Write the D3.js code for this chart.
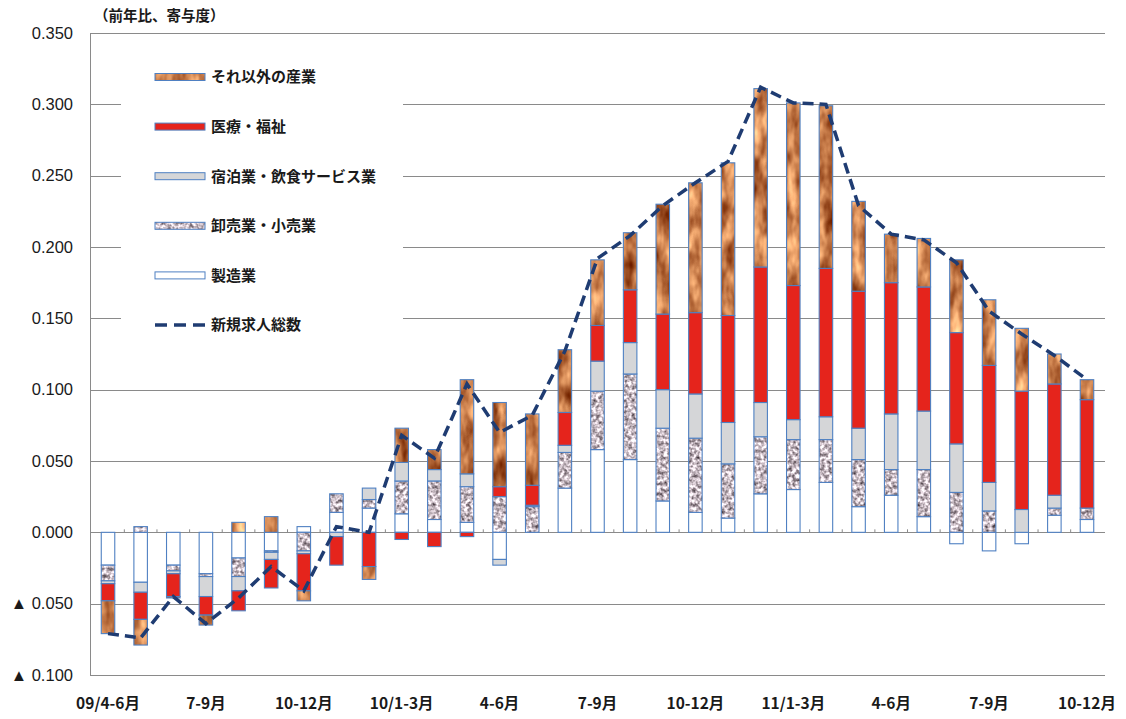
<!DOCTYPE html>
<html>
<head>
<meta charset="utf-8">
<script src="https://cdn.jsdelivr.net/npm/d3@7"></script>
<style>
  html, body { margin: 0; padding: 0; background: #ffffff; }
  svg { display: block; }
</style>
</head>
<body>
<svg id="chart" width="1126" height="719"></svg>
<script>
// Monthly periods, April 2009 to October 2011
const categories = [
  "2009-04","2009-05","2009-06","2009-07","2009-08","2009-09","2009-10","2009-11","2009-12",
  "2010-01","2010-02","2010-03","2010-04","2010-05","2010-06","2010-07","2010-08","2010-09",
  "2010-10","2010-11","2010-12","2011-01","2011-02","2011-03","2011-04","2011-05","2011-06",
  "2011-07","2011-08","2011-09","2011-10"
];
// Category axis labels, one every three periods
const tickLabels = ["09/4-6月","7-9月","10-12月","10/1-3月","4-6月","7-9月","10-12月","11/1-3月","4-6月","7-9月","10-12月"];
const yTicks = [-0.1, -0.05, 0, 0.05, 0.1, 0.15, 0.2, 0.25, 0.3, 0.35];

// Contributions by industry (year-on-year)
const manufacturing = [-0.023,-0.035,-0.023,-0.029,-0.018,-0.013,0.004,0.014,0.017,0.013,0.009,0.007,-0.019,0.000,0.031,0.058,0.051,0.022,0.014,0.010,0.027,0.030,0.035,0.018,0.026,0.011,-0.008,-0.013,-0.008,0.012,0.009];
const wholesaleRetail = [-0.011,0.004,-0.004,-0.002,-0.013,-0.001,-0.013,0.013,0.006,0.023,0.027,0.025,0.025,0.018,0.025,0.041,0.060,0.051,0.052,0.038,0.040,0.035,0.030,0.033,0.018,0.033,0.028,0.015,0.000,0.005,0.008];
const accommodationFood = [-0.002,-0.007,-0.002,-0.014,-0.010,-0.005,-0.002,-0.003,0.008,0.013,0.008,0.009,-0.004,0.001,0.005,0.021,0.022,0.027,0.031,0.029,0.024,0.014,0.016,0.022,0.039,0.041,0.034,0.020,0.016,0.009,0.000];
const medicalWelfare = [-0.012,-0.019,-0.016,-0.013,-0.014,-0.020,-0.026,-0.020,-0.024,-0.005,-0.010,-0.003,0.007,0.014,0.023,0.025,0.037,0.053,0.057,0.075,0.095,0.094,0.104,0.096,0.092,0.087,0.078,0.082,0.083,0.078,0.076];
const otherIndustries = [-0.023,-0.018,-0.001,-0.007,0.007,0.011,-0.007,0.000,-0.009,0.024,0.014,0.066,0.059,0.050,0.044,0.046,0.040,0.077,0.091,0.107,0.125,0.128,0.114,0.063,0.034,0.034,0.051,0.046,0.044,0.021,0.014];
// Total new job openings (year-on-year)
const newOpenings = [-0.071,-0.074,-0.045,-0.064,-0.046,-0.024,-0.041,0.004,0.000,0.068,0.052,0.104,0.070,0.082,0.127,0.192,0.208,0.229,0.245,0.260,0.312,0.301,0.300,0.229,0.209,0.205,0.189,0.155,0.139,0.124,0.107];

const seriesKeys = ["manufacturing","wholesaleRetail","accommodationFood","medicalWelfare","otherIndustries"];
const seriesLabels = {
  otherIndustries: "それ以外の産業",
  medicalWelfare: "医療・福祉",
  accommodationFood: "宿泊業・飲食サービス業",
  wholesaleRetail: "卸売業・小売業",
  manufacturing: "製造業"
};
const lineLabel = "新規求人総数";

const rows = categories.map((c, i) => ({
  cat: c,
  manufacturing: manufacturing[i],
  wholesaleRetail: wholesaleRetail[i],
  accommodationFood: accommodationFood[i],
  medicalWelfare: medicalWelfare[i],
  otherIndustries: otherIndustries[i]
}));

const svg = d3.select("#chart");
const plot = { left: 90, right: 1105, top: 33, bottom: 675 };
const jpFont = "'Noto Sans CJK JP', 'Noto Sans', sans-serif";
const numFont = "'Liberation Sans', 'DejaVu Sans', sans-serif";

const x = d3.scaleBand().domain(categories).range([plot.left, plot.right])
  .paddingInner(0.586).paddingOuter(0.345);
const y = d3.scaleLinear().domain([-0.1, 0.35]).range([plot.bottom, plot.top]);

// ---- textures ----
const defs = svg.append("defs");
function textureFilter(id, freq, octaves, seed, matrix) {
  const f = defs.append("filter").attr("id", id)
    .attr("x", 0).attr("y", 0).attr("width", 1).attr("height", 1)
    .attr("color-interpolation-filters", "sRGB");
  f.append("feTurbulence").attr("type", "fractalNoise")
    .attr("baseFrequency", freq).attr("numOctaves", octaves).attr("seed", seed).attr("result", "n");
  f.append("feColorMatrix").attr("in", "n").attr("type", "matrix").attr("values", matrix).attr("result", "c");
  f.append("feComposite").attr("in", "c").attr("in2", "SourceGraphic").attr("operator", "in");
}
// crumpled copper foil
textureFilter("copper", "0.08 0.035", 3, 4,
  "0.95 0 0 0 0.29  1.0 0 0 0 -0.03  0.85 0 0 0 -0.15  0 0 0 0 1");
// grey granite speckle
textureFilter("speckle", "0.28", 2, 7,
  "1.4 0 0 0 0.08  1.4 0 0 0 0.03  1.4 0 0 0 0.06  0 0 0 0 1");

const fills = {
  manufacturing: { fill: "#ffffff", filter: null },
  wholesaleRetail: { fill: "#c9bfc3", filter: "url(#speckle)" },
  accommodationFood: { fill: "#d5d6d8", filter: null },
  medicalWelfare: { fill: "#e5241c", filter: null },
  otherIndustries: { fill: "#c27c44", filter: "url(#copper)" }
};
const outline = "#4f80c2";

// ---- gridlines and frame ----
const grid = svg.append("g");
grid.selectAll("line").data(yTicks).join("line")
  .attr("x1", plot.left).attr("x2", plot.right)
  .attr("y1", d => Math.round(y(d)) + 0.5).attr("y2", d => Math.round(y(d)) + 0.5)
  .attr("stroke", "#8a8a8a").attr("stroke-width", 1);
svg.append("line")
  .attr("x1", plot.left + 0.5).attr("x2", plot.left + 0.5)
  .attr("y1", y(0.35)).attr("y2", y(-0.1))
  .attr("stroke", "#8a8a8a").attr("stroke-width", 1);

// ---- y axis labels ----
const fmt = d3.format(".3f");
const yAxis = d3.axisLeft(y).tickValues(yTicks).tickSize(0).tickPadding(17)
  .tickFormat(v => v < 0 ? "▲ " + fmt(-v) : fmt(Math.abs(v)));
const yg = svg.append("g").attr("transform", `translate(${plot.left},0)`).call(yAxis);
yg.select(".domain").remove();
yg.selectAll("text").attr("font-family", numFont).attr("font-size", 16.5).attr("fill", "#1a1a1a");

// ---- legend ----
const legend = svg.append("g");
legend.append("rect").attr("x", 121).attr("y", 45).attr("width", 282).attr("height", 318).attr("fill", "#ffffff");
const legendOrder = ["otherIndustries","medicalWelfare","accommodationFood","wholesaleRetail","manufacturing"];
const legendY = d3.scalePoint().domain([...legendOrder, "line"]).range([77, 325]);
legendOrder.forEach(k => {
  const yy = legendY(k);
  legend.append("rect").attr("x", 155).attr("y", yy - 3.5).attr("width", 50).attr("height", 7)
    .attr("fill", fills[k].fill).attr("filter", fills[k].filter);
  legend.append("rect").attr("x", 155).attr("y", yy - 3.5).attr("width", 50).attr("height", 7)
    .attr("fill", "none").attr("stroke", outline).attr("stroke-width", 1);
  legend.append("text").attr("x", 211).attr("y", yy).attr("dy", "0.36em")
    .attr("font-family", jpFont).attr("font-weight", 700).attr("font-size", 15).attr("fill", "#1a1a1a")
    .text(seriesLabels[k]);
});
legend.append("line").attr("x1", 155).attr("x2", 205)
  .attr("y1", legendY("line")).attr("y2", legendY("line"))
  .attr("stroke", "#1f3c72").attr("stroke-width", 3.5).attr("stroke-dasharray", "12 7");
legend.append("text").attr("x", 211).attr("y", legendY("line")).attr("dy", "0.36em")
  .attr("font-family", jpFont).attr("font-weight", 700).attr("font-size", 15).attr("fill", "#1a1a1a")
  .text(lineLabel);

// ---- stacked bars ----
const stacked = d3.stack().keys(seriesKeys).offset(d3.stackOffsetDiverging)(rows);
const bw = x.bandwidth();
const barsG = svg.append("g");
stacked.forEach(layer => {
  const k = layer.key;
  const segs = layer.filter(d => Math.abs(d[1] - d[0]) > 0.0005);
  const g = barsG.append("g");
  g.selectAll("rect.fill").data(segs).join("rect").attr("class", "fill")
    .attr("x", d => x(d.data.cat)).attr("width", bw)
    .attr("y", d => y(Math.max(d[0], d[1])))
    .attr("height", d => Math.abs(y(d[0]) - y(d[1])))
    .attr("fill", fills[k].fill).attr("filter", fills[k].filter);
  g.selectAll("rect.edge").data(segs).join("rect").attr("class", "edge")
    .attr("x", d => x(d.data.cat)).attr("width", bw)
    .attr("y", d => y(Math.max(d[0], d[1])))
    .attr("height", d => Math.abs(y(d[0]) - y(d[1])))
    .attr("fill", "none").attr("stroke", outline).attr("stroke-width", 1.1);
});

// small category ticks on the zero line, between bars
const step = x.step();
svg.append("g").selectAll("line").data(categories.slice(1)).join("line")
  .attr("x1", d => x(d) - (step - bw) / 2).attr("x2", d => x(d) - (step - bw) / 2)
  .attr("y1", y(0) - 3).attr("y2", y(0))
  .attr("stroke", "#8a8a8a").attr("stroke-width", 1);

// ---- total new job openings line ----
const line = d3.line().x((d, i) => x(categories[i]) + bw / 2).y(d => y(d));
svg.append("path").datum(newOpenings).attr("d", line)
  .attr("fill", "none").attr("stroke", "#1f3c72").attr("stroke-width", 3.5)
  .attr("stroke-dasharray", "11 6");

// ---- category labels ----
const labelCats = categories.filter((c, i) => i % 3 === 0);
const xAxis = d3.axisBottom(x).tickValues(labelCats).tickSize(0).tickPadding(23)
  .tickFormat(d => tickLabels[labelCats.indexOf(d)]);
const xg = svg.append("g").attr("transform", `translate(0,${plot.bottom})`).call(xAxis);
xg.select(".domain").remove();
xg.selectAll("text").attr("font-family", jpFont).attr("font-weight", 700).attr("font-size", 15.5).attr("fill", "#1a1a1a");

// ---- unit caption ----
svg.append("text").attr("x", 94).attr("y", 16).attr("dy", "0.36em")
  .attr("font-family", jpFont).attr("font-weight", 700).attr("font-size", 14.5).attr("fill", "#1a1a1a")
  .text("（前年比、寄与度）");
</script>
</body>
</html>
